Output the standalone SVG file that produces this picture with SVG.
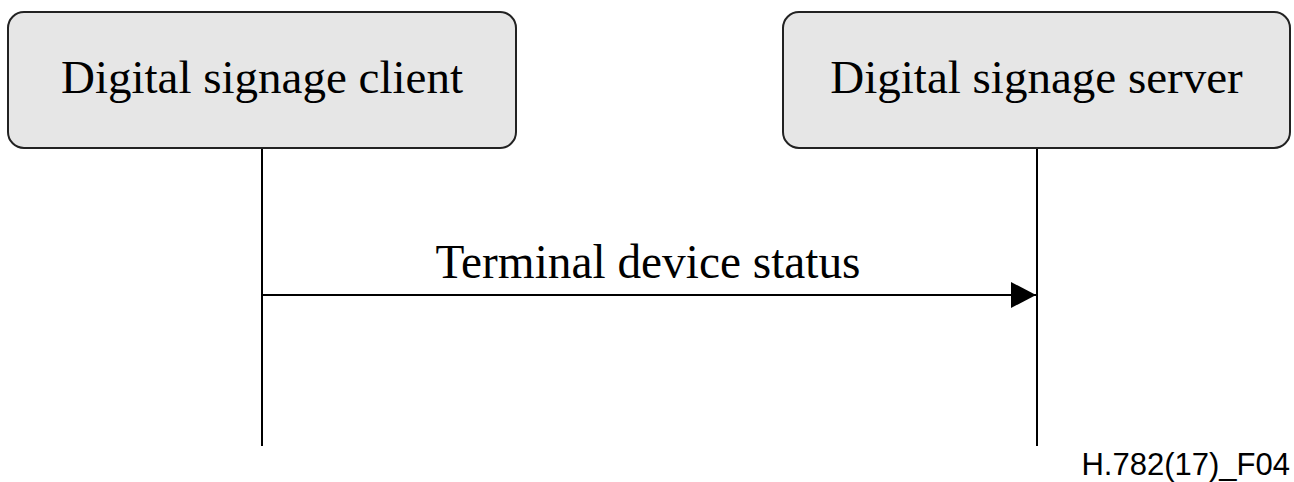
<svg xmlns="http://www.w3.org/2000/svg" width="1294" height="482" viewBox="0 0 1294 482">
<style>
.box{fill:#e6e6e6;stroke:#222;stroke-width:2}
.lbl{font-family:"Liberation Serif","Times New Roman",serif;fill:#000;text-anchor:middle}
.line{stroke:#000;stroke-width:2;fill:none}
</style>
<defs>
<marker id="ah" markerUnits="userSpaceOnUse" markerWidth="26" markerHeight="28" refX="25" refY="14" orient="auto">
<path d="M0,1 L25,14 L0,27 Z" fill="#000"/>
</marker>
</defs>
<rect width="1294" height="482" fill="#fff"/>
<g id="connectors">
<line class="line" x1="262" y1="148" x2="262" y2="446"/>
<line class="line" x1="1037" y1="148" x2="1037" y2="446"/>
<line class="line" x1="262" y1="295" x2="1036" y2="295" marker-end="url(#ah)"/>
<text class="lbl" x="648" y="278" font-size="48" textLength="425" lengthAdjust="spacingAndGlyphs">Terminal device status</text>
</g>
<g id="client">
<rect class="box" x="8" y="12" width="508" height="136" rx="16"/>
<text class="lbl" x="262" y="93" font-size="47">Digital signage client</text>
</g>
<g id="server">
<rect class="box" x="783" y="12" width="507" height="136" rx="16"/>
<text class="lbl" x="1036.5" y="93" font-size="47">Digital signage server</text>
</g>
<text x="1290" y="475" font-family="Liberation Sans,Arial,sans-serif" font-size="31" text-anchor="end" fill="#000">H.782(17)_F04</text>
</svg>
